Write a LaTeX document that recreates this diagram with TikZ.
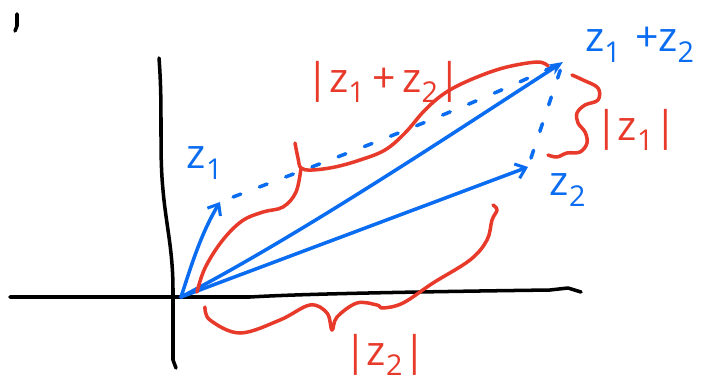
\documentclass[tikz,border=0pt]{standalone}
\usepackage{fontspec}
\setmainfont{Open Sans}
\usetikzlibrary{arrows.meta}
\definecolor{pblue}{HTML}{0A6CF0}
\definecolor{pred}{HTML}{E83A2A}
\begin{document}
\begin{tikzpicture}[x=0.03cm,y=-0.03cm,
  ink/.style={line width=3pt,line cap=round,line join=round},
  axisline/.style={ink,black},
  vec/.style={ink,pblue},
  dashvec/.style={ink,pblue,dash pattern=on 7pt off 17pt},
  bracecurve/.style={ink,pred},
  barb/.style={-{Straight Barb[length=8pt,width=13pt,line width=2.6pt]}},
  solidtip/.style={-{Stealth[length=12pt,width=10pt]}},
  bluelbl/.style={text=pblue,font=\fontsize{35}{40}\selectfont,inner sep=0pt},
  redlbl/.style={text=pred,font=\fontsize{35}{40}\selectfont,inner sep=0pt}]
\useasboundingbox (0,0) rectangle (709,390);

% named points
\coordinate (O) at (181,297);
\coordinate (Z1) at (220,202);
\coordinate (Z2) at (528,167);
\coordinate (S) at (563,62);

% tiny mark
\draw[axisline] (17,14) -- (17,26) -- (15,31);

% axes
\coordinate (XL) at (10,297);
\coordinate (XR) at (581,292);
\coordinate (YT) at (159,58);
\coordinate (YB) at (176,368);
\draw[axisline] (XL) -- (250,297) .. controls (300,294) and (400,292) .. (550,290) -- (568,288) -- (XR);
\draw[axisline] (YT) .. controls (163,110) and (159,150) .. (163,190)
   .. controls (166,225) and (173,250) .. (173,290) -- (173,360) -- (YB);

% vectors
\draw[vec,barb] (O) .. controls (190,270) and (200,235) .. (Z1);
\draw[vec,barb] (O) -- (Z2);
\draw[vec,solidtip] (O) .. controls (300,235) and (450,135) .. (S);

% dashed parallelogram sides
\draw[dashvec,shorten <=12pt,shorten >=6pt] (Z1) .. controls (330,160) and (450,115) .. (S);
\draw[dashvec,shorten <=8pt,shorten >=6pt] (Z2) -- (S);

% red braces
\draw[bracecurve] plot[smooth,tension=0.6] coordinates {(197,292) (205,268) (222,241) (242,221) (263,212) (283,207) (296,192) (301,168)};
\draw[bracecurve] plot[smooth,tension=0.6] coordinates {(295,143) (298,158) (301,168) (312,170) (335,167) (360,160) (385,150) (405,133) (425,110) (445,93) (470,80) (503,68) (537,62) (548,66)};
\draw[bracecurve] plot[smooth,tension=0.6] coordinates {(572,75) (583,80) (598,88) (598,100) (585,105) (577,113) (578,123) (585,132) (587,143) (580,152) (567,153) (557,157) (548,155)};
\draw[bracecurve] plot[smooth,tension=0.6] coordinates {(205,307) (210,320) (240,333) (280,320) (310,305) (327,313) (332,330) (337,317) (357,303) (377,305) (383,308) (403,303) (433,283) (470,260) (487,240) (492,220) (497,210) (493,205)};

% labels
\node[bluelbl] (Lz1) at (205,163) {z\textsubscript{1}};
\node[bluelbl] (Lz2) at (568,190) {z\textsubscript{2}};
\node[bluelbl] (Lsum) at (640,45) {z\textsubscript{1}\,\,+z\textsubscript{2}};
\node[redlbl] (Rsum) at (384,82) {|z\textsubscript{1}\,+\,z\textsubscript{2}|};
\node[redlbl] (Rz1) at (636,130) {|z\textsubscript{1}|};
\node[redlbl] (Rz2) at (385,355) {|z\textsubscript{2}|};
\end{tikzpicture}
\end{document}
